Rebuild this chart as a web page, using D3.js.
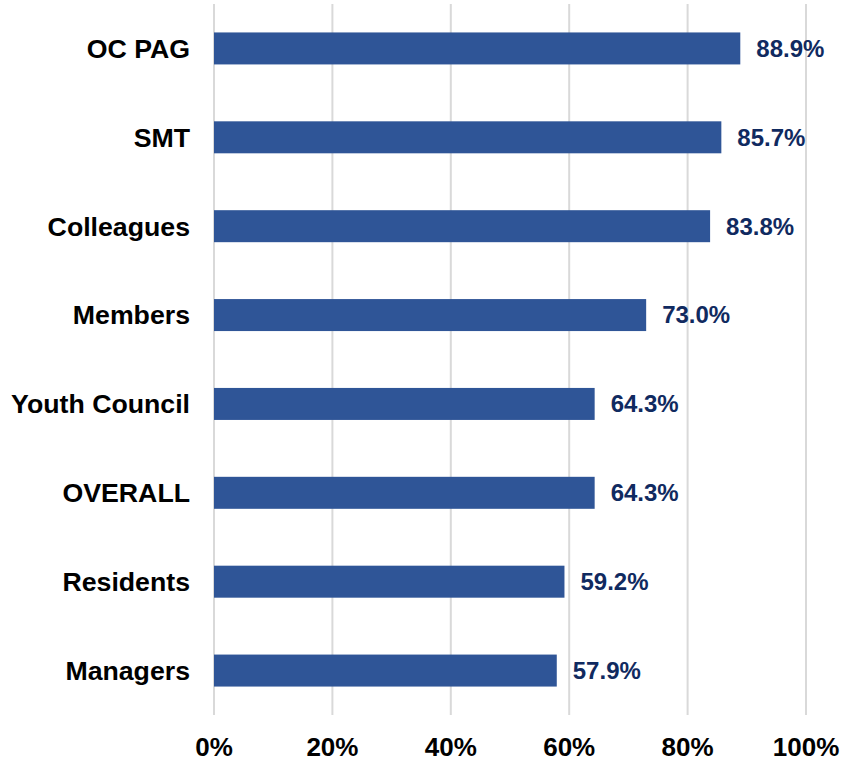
<!DOCTYPE html>
<meta charset="utf-8">
<style>
body { margin: 0; background: #fff; }
text { font-family: "Liberation Sans", Arial, sans-serif; font-weight: bold; }
</style>
<svg width="845" height="765"></svg>
<script src="https://d3js.org/d3.v7.min.js"></script>
<script>

var categories = ["OC PAG", "SMT", "Colleagues", "Members", "Youth Council", "OVERALL", "Residents", "Managers"];
var values = [88.9, 85.7, 83.8, 73.0, 64.3, 64.3, 59.2, 57.9];
var ticks = [0, 20, 40, 60, 80, 100];

var svg = d3.select("svg");

var x = d3.scaleLinear()
  .domain([0, 100])
  .range([214, 806]);

var y = d3.scaleBand()
  .domain(categories)
  .range([4, 715])
  .paddingInner(0.64)
  .paddingOuter(0.32);

// gridlines
svg.append("g")
  .selectAll("line")
  .data(ticks)
  .enter()
  .append("line")
  .attr("x1", function(d) { return x(d); })
  .attr("x2", function(d) { return x(d); })
  .attr("y1", 4)
  .attr("y2", 715)
  .attr("stroke", "#d9d9d9")
  .attr("stroke-width", 2);

// tick labels
svg.append("g")
  .selectAll("text")
  .data(ticks)
  .enter()
  .append("text")
  .attr("x", function(d) { return x(d); })
  .attr("y", 756)
  .attr("text-anchor", "middle")
  .attr("font-size", 26)
  .attr("fill", "#000")
  .text(function(d) { return d + "%"; });

// bars
svg.append("g")
  .selectAll("rect")
  .data(values)
  .enter()
  .append("rect")
  .attr("x", x(0))
  .attr("y", function(d, i) { return y(categories[i]); })
  .attr("width", function(d) { return x(d) - x(0); })
  .attr("height", y.bandwidth())
  .attr("fill", "#2f5597");

// category labels
svg.append("g")
  .selectAll("text")
  .data(categories)
  .enter()
  .append("text")
  .attr("x", 190)
  .attr("y", function(d) { return y(d) + y.bandwidth() / 2; })
  .attr("dy", "0.35em")
  .attr("text-anchor", "end")
  .attr("font-size", 26.7)
  .attr("fill", "#000")
  .text(function(d) { return d; });

// value labels
svg.append("g")
  .selectAll("text")
  .data(values)
  .enter()
  .append("text")
  .attr("x", function(d) { return x(d) + 16; })
  .attr("y", function(d, i) { return y(categories[i]) + y.bandwidth() / 2; })
  .attr("dy", "0.35em")
  .attr("font-size", 24)
  .attr("fill", "#102a60")
  .text(function(d) { return d.toFixed(1) + "%"; });

</script>
